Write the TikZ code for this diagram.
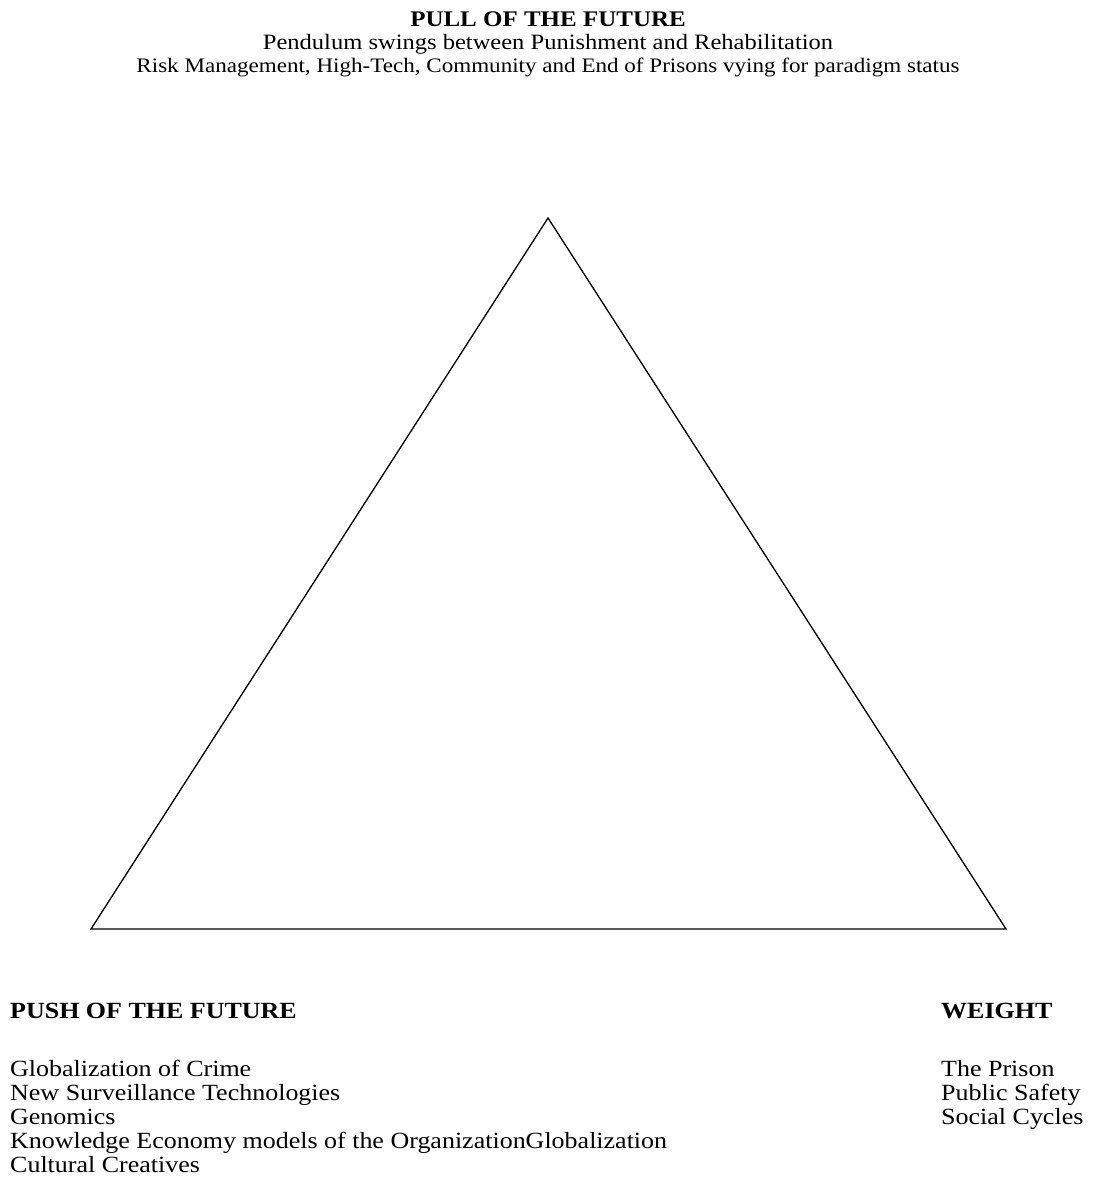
\documentclass[tikz,border=0pt]{standalone}
\usepackage{fontspec}
\setmainfont[FakeStretch=1.12]{Liberation Serif}
\begin{document}
\begin{tikzpicture}[x=1pt,y=-1pt,
  txt/.style={inner sep=0pt},
  lower/.style={txt, anchor=base west, font=\fontsize{23.2}{24}\selectfont},
  listblock/.style={lower, align=left},
  ctr/.style={txt, anchor=base},
  edge/.style={line width=1.3pt, line join=miter}]
\useasboundingbox (0,0) rectangle (1093,1198);
\coordinate (apex) at (548,218);
\coordinate (bl) at (91,929);
\coordinate (br) at (1006,929);
\draw[edge] (apex) -- (bl) -- (br) -- cycle;
\node[ctr, font=\fontsize{22.3}{23}\selectfont\bfseries] (pull) at (548,27) {PULL OF THE FUTURE};
\node[ctr, font=\fontsize{21.9}{23}\selectfont] (pend) at (548,50) {Pendulum swings between Punishment and Rehabilitation};
\node[ctr, font=\fontsize{20.6}{23}\selectfont] (risk) at (548,73) {Risk Management, High-Tech, Community and End of Prisons vying for paradigm status};
\node[lower, font=\fontsize{23.2}{24}\selectfont\bfseries] (pushhead) at (10,1018) {PUSH OF THE FUTURE};
\node[listblock] (pushlist) at (10,1172) {Globalization of Crime\\New Surveillance Technologies\\Genomics\\Knowledge Economy models of the OrganizationGlobalization\\Cultural Creatives};
\node[lower, font=\fontsize{23.2}{24}\selectfont\bfseries] (weighthead) at (941,1018) {WEIGHT};
\node[listblock] (weightlist) at (941,1124) {The Prison\\Public Safety\\Social Cycles};
\end{tikzpicture}
\end{document}
